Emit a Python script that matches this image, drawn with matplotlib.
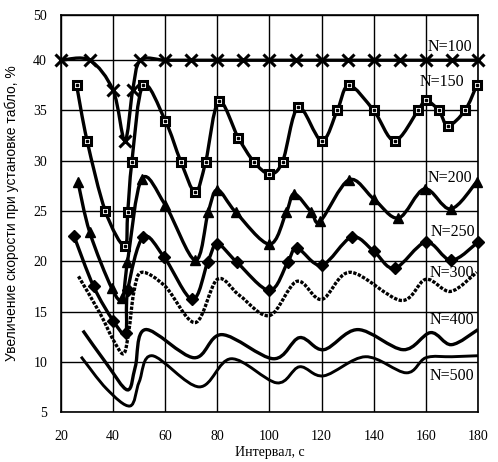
import numpy as np
import matplotlib
matplotlib.use('Agg')
import matplotlib.pyplot as plt
from matplotlib.path import Path
from matplotlib.patches import PathPatch

# values
x100 = [20, 31, 40, 44.5, 47.5, 50.5, 60, 70, 80, 90, 100, 110, 120, 130, 140, 150, 160, 170, 180]
y100 = [40, 40, 37, 32, 37, 40, 40, 40, 40, 40, 40, 40, 40, 40, 40, 40, 40, 40, 40]

x150 = [26, 30, 37, 44.4, 45.6, 47.2, 51.5, 60, 66, 71.5, 75.5, 80.5, 88, 94, 100, 105, 111,
        120, 126, 130.5, 140, 148, 157, 160, 165, 168.5, 175, 179.5]
y150 = [37.5, 32, 25, 21.5, 24.9, 29.9, 37.5, 34, 29.9, 26.9, 29.9, 35.9, 32.3, 29.9, 28.7, 29.9, 35.3,
        32, 35, 37.5, 35, 32, 35, 36, 35, 33.5, 35, 37.5]

x200 = [26.5, 31, 39.5, 43.5, 45.5, 51, 60, 71.5, 76.5, 80, 87, 100, 106.5, 109.5, 116, 119.5,
        130.5, 140, 149.5, 159.5, 169.5, 179.5]
y200 = [27.9, 22.9, 17.3, 16.3, 19.9, 28.2, 25.6, 20.1, 24.9, 27.1, 24.9, 21.7, 24.9, 26.7, 24.9, 24,
        28.1, 26.2, 24.3, 27.2, 25.2, 27.9]

x250 = [25, 32.5, 40, 44.8, 45.6, 51.5, 59.6, 70.4, 76.3, 80, 87.5, 100, 107, 110.6, 120, 131.5,
        140, 148, 160, 169.7, 180]
y250 = [22.5, 17.5, 14.1, 12.9, 17.1, 22.4, 20.4, 16.2, 19.9, 21.7, 19.9, 17.1, 19.9, 21.3, 19.6, 22.4,
        21, 19.3, 21.9, 20.1, 21.9]

x300 = [26.7, 35, 40, 44, 46, 48, 51, 60, 71.5, 80, 88.5, 100, 110.5, 120, 131, 150.5, 160, 169.5, 179.5]
y300 = [18.5, 14.8, 12.2, 10.8, 13, 17, 18.9, 17.5, 13.9, 18.2, 16.6, 14.6, 18, 16.2, 18.9, 16.1, 18.2, 17, 18.9]

x400 = [28.4, 37.5, 45.5, 48.5, 52.4, 71, 81.7, 101.5, 111.5, 120.8, 133.9, 151.3, 161.8, 169.8, 180]
y400 = [13.1, 9.8, 7.2, 9.5, 13.2, 10.4, 12.7, 10.3, 12.4, 11.2, 13.2, 11.2, 12.9, 11.7, 13.2]

x500 = [27.7, 37.5, 46.5, 50, 55, 73, 85.3, 102.8, 111.5, 120.8, 136.8, 152.5, 160, 170, 180]
y500 = [10.5, 7.3, 5.6, 8, 10.6, 7.5, 10.3, 7.9, 9.5, 8.6, 10.5, 8.9, 10.4, 10.5, 10.6]

labels = ['N=100', 'N=150', 'N=200', 'N=250', 'N=300', 'N=400', 'N=500']
label_x = [160.5, 157.5, 160.5, 162, 161.5, 161.5, 161.5]
label_y = [41.3, 37.8, 28.3, 22.9, 18.85, 14.2, 8.6]

yticks = [5, 10, 15, 20, 25, 30, 35, 40, 44.5]
yticklabels = ['5', '10', '15', '20', '25', '30', '35', '40', '50']
xticks = [20, 40, 60, 80, 100, 120, 140, 160, 180]


def smooth_path(x, y):
    # excel style smoothed line: catmull-rom segments as cubic bezier
    pts = np.column_stack([x, y]).astype(float)
    n = len(pts)
    verts = [pts[0]]
    codes = [Path.MOVETO]
    for i in range(n - 1):
        p0 = pts[i - 1] if i > 0 else pts[i]
        p1 = pts[i]
        p2 = pts[i + 1]
        p3 = pts[i + 2] if i + 2 < n else pts[i + 1]
        c1 = p1 + (p2 - p0) / 6.0
        c2 = p2 - (p3 - p1) / 6.0
        verts += [c1, c2, p2]
        codes += [Path.CURVE4] * 3
    return Path(verts, codes)


plt.rcParams['font.family'] = ['Liberation Serif', 'DejaVu Serif']

fig = plt.figure(figsize=(4.98, 4.62), dpi=100)
ax = fig.add_axes([0.1225, 0.1082, 0.8373, 0.8593])

series = [
    (x100, y100, 'x', 'k', 8.5, 2.4, '-'),
    (x150, y150, 's', 'w', 6, 2.4, '-'),
    (x200, y200, '^', 'k', 7.5, 2.4, '-'),
    (x250, y250, 'D', 'k', 6, 2.4, '-'),
    (x300, y300, None, None, 0, 2.4, (0, (1.0, 0.45))),
    (x400, y400, None, None, 0, 2.4, '-'),
    (x500, y500, None, None, 0, 2.1, '-'),
]

for xs, ys, mk, fc, ms, lw, ls in series:
    patch = PathPatch(smooth_path(xs, ys), facecolor='none', edgecolor='black',
                      linewidth=lw, linestyle=ls, zorder=3)
    ax.add_patch(patch)
    if mk is not None:
        ax.plot(xs, ys, linestyle='none', marker=mk, markersize=ms,
                markerfacecolor=fc, markeredgecolor='black',
                markeredgewidth=2.2 if mk in ('x', 's') else 1, zorder=4, clip_on=False)
        if mk == 's':
            ax.plot(xs, ys, linestyle='none', marker='s', markersize=1.6,
                    color='black', zorder=5, clip_on=False)

for lab, lx, ly in zip(labels, label_x, label_y):
    ax.text(lx, ly, lab, fontsize=11.5, ha='left', va='center', zorder=6)

ax.set_xlim(20, 180)
ax.set_ylim(5, 44.5)
ax.set_xticks(xticks)
ax.set_yticks(yticks)
ax.set_yticklabels(yticklabels)
ax.tick_params(length=0, labelsize=10, pad=10)
ax.tick_params(axis='x', pad=13)
ax.grid(True, color='black', linewidth=1.0)
ax.set_axisbelow(True)
for sp in ax.spines.values():
    sp.set_linewidth(1.2)

ax.set_xlabel('Интервал, с', fontsize=10, labelpad=2)
ax.set_ylabel('Увеличение скорости при установке табло, %', fontsize=10,
              family=['Liberation Sans', 'DejaVu Sans'], labelpad=10)

fig.savefig('out.png', dpi=100)
